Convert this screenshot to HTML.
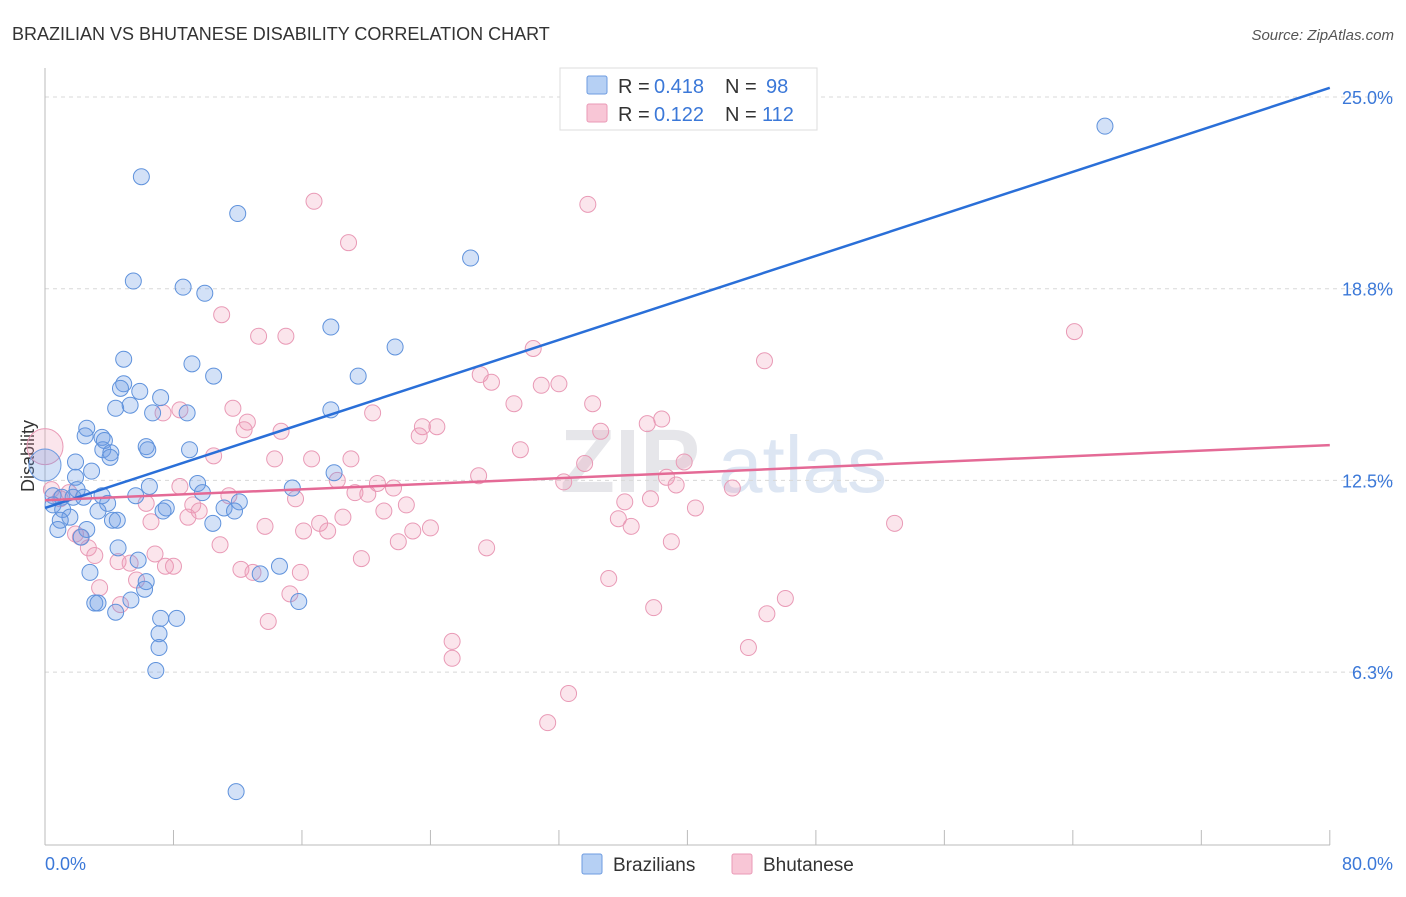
<!DOCTYPE html>
<html><head><meta charset="utf-8">
<style>
body{margin:0;background:#fff;font-family:"Liberation Sans",sans-serif;}
svg text{font-family:"Liberation Sans",sans-serif;}
</style></head>
<body>
<svg width="1406" height="892" viewBox="0 0 1406 892" id="chart">
<text x="12" y="40" font-size="18" fill="#333">BRAZILIAN VS BHUTANESE DISABILITY CORRELATION CHART</text>
<text x="1394" y="40" font-size="15" fill="#555" text-anchor="end" font-style="italic">Source: ZipAtlas.com</text>
<text x="560" y="492" font-size="90" fill="#e6e6ea" font-weight="bold">ZIP</text>
<text x="718" y="492" font-size="80" fill="#dde6f3">atlas</text>
<text transform="translate(34,456) rotate(-90)" font-size="18" fill="#333" text-anchor="middle">Disability</text>
<g id="grid"></g><g id="axes"></g><g id="pink"></g><g id="blue"></g><g id="trends"></g>
<g>
<rect x="560" y="68" width="257" height="62" fill="#fff" stroke="#ddd"/>
<rect x="587" y="76" width="20" height="18" fill="#b6d0f4" stroke="#6d9be0" rx="2"/>
<rect x="587" y="104" width="20" height="18" fill="#f8c6d6" stroke="#ea9ab7" rx="2"/>
<text x="618" y="93" font-size="20" fill="#333">R =</text>
<text x="654" y="93" font-size="20" fill="#3b78d8">0.418</text>
<text x="725" y="93" font-size="20" fill="#333">N =</text>
<text x="766" y="93" font-size="20" fill="#3b78d8">98</text>
<text x="618" y="121" font-size="20" fill="#333">R =</text>
<text x="654" y="121" font-size="20" fill="#3b78d8">0.122</text>
<text x="725" y="121" font-size="20" fill="#333">N =</text>
<text x="762" y="121" font-size="20" fill="#3b78d8">112</text>
</g>
<g>
<rect x="582" y="854" width="20" height="20" fill="#b6d0f4" stroke="#6d9be0" rx="2"/>
<text x="613" y="871" font-size="19" fill="#333">Brazilians</text>
<rect x="732" y="854" width="20" height="20" fill="#f8c6d6" stroke="#ea9ab7" rx="2"/>
<text x="763" y="871" font-size="19" fill="#333">Bhutanese</text>
</g>
</svg>
<script>
const yTicks=[25,18.75,12.5,6.25];
const yTickLabels=["25.0%","18.8%","12.5%","6.3%"];
const xTicks=[0,8,16,24,32,40,48,56,64,72,80];
const blueX=[66,6,12,26.5,5.5,8.6,9.95,17.8,21.8,4.9,9.15,10.5,19.5,4.9,4.7,5.9,7.2,5.3,4.4,6.7,8.85,17.8,2.6,2.5,3.55,3.7,6.3,6.4,9,3.6,4.1,4.05,1.9,2.9,18,1.9,6.5,15.4,2,9.5,9.8,0.5,1.05,1.75,2.4,3.55,5.65,12.1,3.9,0.5,7.55,11.15,1.1,3.3,11.8,7.35,1.55,0.95,4.2,4.5,10.45,0.8,2.6,2.25,4.55,5.8,14.6,13.4,2.8,6.3,6.2,5.35,3.1,3.3,15.8,4.4,7.2,8.2,7.1,7.1,6.9,11.9];
const blueY=[24.05,22.4,21.2,19.75,19,18.8,18.6,17.5,16.85,16.45,16.3,15.9,15.9,15.65,15.5,15.4,15.2,14.95,14.85,14.7,14.7,14.8,14.2,13.95,13.9,13.8,13.6,13.5,13.5,13.5,13.4,13.25,13.1,12.8,12.75,12.6,12.3,12.25,12.2,12.4,12.1,12,11.95,11.95,11.95,12,12,11.8,11.75,11.7,11.6,11.6,11.55,11.5,11.5,11.5,11.3,11.2,11.2,11.2,11.1,10.9,10.9,10.65,10.3,9.9,9.7,9.45,9.5,9.2,8.95,8.6,8.5,8.5,8.55,8.2,8,8,7.5,7.05,6.3,2.35];
const pinkX=[64.1,33.8,16.75,18.9,11,13.3,15,30.4,44.8,27.1,27.8,30.9,32,29.2,34.1,8.4,7.35,11.7,20.4,12.6,38.4,37.5,23.5,24.4,12.4,34.6,14.7,23.3,29.6,10.5,14.3,16.6,19.05,39.8,33.6,38.7,27,18.2,20.7,32.3,39.3,8.4,42.8,21.7,19.3,20.1,11.45,37.7,36.1,6.3,15.6,9.2,22.5,9.6,21.1,40.5,0.4,1.5,0.95,8.9,35.7,18.55,6.6,17.1,52.9,13.7,36.5,24,22.9,16.1,17.6,1.9,2.2,22,10.9,39,2.7,27.5,3.1,6.85,19.7,4.55,5.3,7.5,8,12.2,12.95,15.9,35.1,5.7,3.4,15.25,4.7,46.1,37.9,44.95,13.9,25.35,43.8,25.35,32.6,31.3];
const pinkY=[17.35,21.5,21.6,20.25,17.9,17.2,17.2,16.8,16.4,15.95,15.7,15.6,15.65,15,15,14.8,14.7,14.85,14.7,14.4,14.5,14.35,14.25,14.25,14.15,14.1,14.1,13.95,13.5,13.3,13.2,13.2,13.2,13.1,13.05,12.6,12.65,12.5,12.4,12.45,12.35,12.3,12.25,12.25,12.1,12.05,12,11.9,11.8,11.75,11.9,11.7,11.7,11.5,11.5,11.6,12.2,12.1,11.9,11.3,11.25,11.3,11.15,11.1,11.1,11,11,10.95,10.85,10.85,10.85,10.75,10.65,10.5,10.4,10.5,10.3,10.3,10.05,10.1,9.95,9.85,9.8,9.7,9.7,9.6,9.5,9.5,9.3,9.25,9,8.8,8.45,8.65,8.35,8.15,7.9,7.25,7.05,6.7,5.55,4.6];
const blueTrend=[11.6,25.3];
const pinkTrend=[11.85,13.65];
const NS="http://www.w3.org/2000/svg";
const sx=v=>45+v*16.06;
const sy=v=>97+(25-v)*30.67;
function mk(tag,attrs,parent){const e=document.createElementNS(NS,tag);for(const k in attrs)e.setAttribute(k,attrs[k]);document.getElementById(parent).appendChild(e);return e;}
yTicks.forEach((t,i)=>{
 const l=mk('line',{x1:45,x2:1394,y1:sy(t),y2:sy(t),stroke:'#d8d8d8','stroke-dasharray':'4,4'},'grid');
 
 
 const tx=mk('text',{x:1393,y:sy(t)+7,'font-size':18,fill:'#3b78d8','text-anchor':'end'},'grid');
 tx.textContent=yTickLabels[i];
 
 
});
const ax=mk('line',{x1:45,x2:1330,y1:845,y2:845,stroke:'#bbb'},'axes');


const ay=mk('line',{x1:45,x2:45,y1:68,y2:845,stroke:'#bbb'},'axes');


xTicks.forEach(t=>{
 const l=mk('line',{x1:sx(t),x2:sx(t),y1:830,y2:845,stroke:'#bbb'},'axes');
 
 
});
const xl0=mk('text',{x:45,y:870,'font-size':18,fill:'#3b78d8'},'axes');xl0.textContent='0.0%';


const xl1=mk('text',{x:1393,y:870,'font-size':18,fill:'#3b78d8','text-anchor':'end'},'axes');xl1.textContent='80.0%';


const bigP=mk('circle',{cx:sx(0),cy:sy(13.6),r:18,fill:'rgba(240,150,180,0.25)',stroke:'#e99ab6'},'pink');


pinkX.forEach((x,i)=>{
 const c=mk('circle',{cx:sx(x),cy:sy(pinkY[i]),r:8,fill:'rgba(240,150,180,0.25)',stroke:'#e99ab6','stroke-width':1},'pink');
 
 
});
const bigB=mk('circle',{cx:sx(0),cy:sy(13.0),r:16,fill:'rgba(110,155,230,0.3)',stroke:'#6d9be0'},'blue');


blueX.forEach((x,i)=>{
 const c=mk('circle',{cx:sx(x),cy:sy(blueY[i]),r:8,fill:'rgba(110,155,230,0.3)',stroke:'#5f92dc','stroke-width':1},'blue');
 
 
});
const bt=mk('line',{x1:sx(0),y1:sy(blueTrend[0]),x2:sx(80),y2:sy(blueTrend[1]),stroke:'#2a6fd8','stroke-width':2.5},'trends');


const pt=mk('line',{x1:sx(0),y1:sy(pinkTrend[0]),x2:sx(80),y2:sy(pinkTrend[1]),stroke:'#e46a96','stroke-width':2.5},'trends');


</script>
</body></html>
